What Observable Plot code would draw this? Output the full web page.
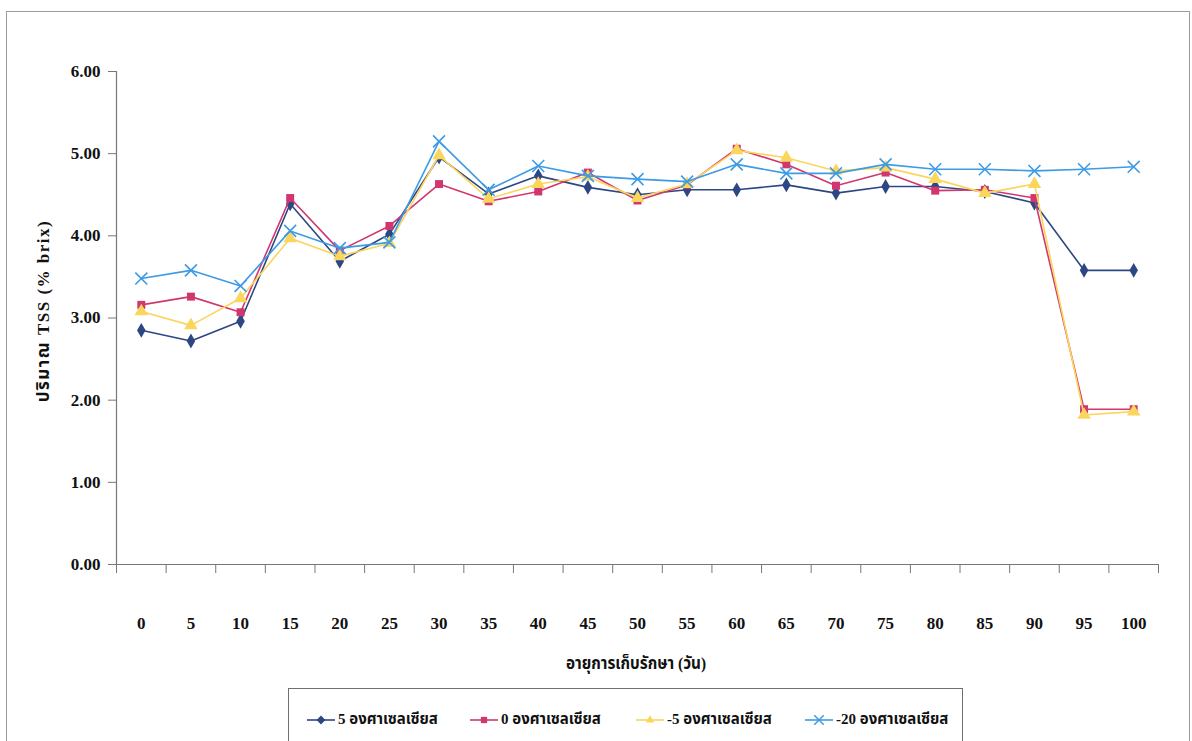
<!DOCTYPE html>
<html>
<head>
<meta charset="utf-8">
<script src="https://cdn.jsdelivr.net/npm/d3@7"></script>
<script src="https://cdn.jsdelivr.net/npm/@observablehq/plot@0.6"></script>
<style>
  html, body { margin: 0; padding: 0; background: #fff; overflow: hidden; }
  #frame { position: absolute; left: 6px; top: 11px; width: 1184px; height: 760px;
           border: 1px solid #9c9c9c; box-sizing: border-box; }
  #chart { position: absolute; left: 0; top: 0; }
  #chart svg text { font-family: "Liberation Serif", "Times New Roman", serif; }
  .ttl { position: absolute; font-family: "Liberation Serif", "Noto Sans Thai", serif;
         font-weight: bold; font-size: 17px; color: #111; white-space: nowrap; }
  #ytitle { left: 44px; top: 311px; transform: translate(-50%, -50%) rotate(-90deg);
            letter-spacing: 1.5px; }
  #xtitle { left: 636px; top: 664px; transform: translate(-50%, -50%) scaleX(0.9); }
  #legend { position: absolute; left: 288px; top: 688px; width: 675px; height: 70px;
            border: 1px solid #6f6f6f; box-sizing: border-box; background: #fff; }
  .item { position: absolute; top: 19px; display: flex; align-items: center;
          font-family: "Liberation Serif", "Noto Sans Thai", serif; font-size: 15px;
          font-weight: bold; color: #111; white-space: nowrap; }
  .item svg { margin-right: 3px; display: block; }
</style>
</head>
<body>
<div id="frame"></div>
<div id="chart"></div>
<div class="ttl" id="ytitle">ปริมาณ TSS (% brix)</div>
<div class="ttl" id="xtitle">อายุการเก็บรักษา (วัน)</div>
<div id="legend"></div>
<script>
// Storage time (days) and total soluble solids (% brix) per storage temperature
const days = [0, 5, 10, 15, 20, 25, 30, 35, 40, 45, 50, 55, 60, 65, 70, 75, 80, 85, 90, 95, 100];
const seriesNames = ["5 องศาเซลเซียส", "0 องศาเซลเซียส", "-5 องศาเซลเซียส", "-20 องศาเซลเซียส"];
const tss5 = [2.85, 2.72, 2.96, 4.39, 3.69, 4.02, 4.96, 4.51, 4.73, 4.59, 4.50, 4.56, 4.56, 4.62, 4.52, 4.60, 4.60, 4.54, 4.40, 3.58, 3.58];
const tss0 = [3.16, 3.26, 3.07, 4.46, 3.82, 4.12, 4.63, 4.42, 4.54, 4.77, 4.43, 4.62, 5.06, 4.87, 4.61, 4.77, 4.55, 4.56, 4.46, 1.89, 1.89];
const tssM5 = [3.08, 2.91, 3.24, 3.97, 3.75, 3.91, 4.98, 4.45, 4.63, 4.72, 4.46, 4.63, 5.04, 4.95, 4.79, 4.83, 4.69, 4.52, 4.63, 1.82, 1.86];
const tssM20 = [3.48, 3.58, 3.39, 4.06, 3.85, 3.92, 5.15, 4.56, 4.85, 4.73, 4.69, 4.66, 4.87, 4.76, 4.76, 4.87, 4.81, 4.81, 4.79, 4.81, 4.84];
const yTicks = [0, 1, 2, 3, 4, 5, 6];

const colors = ["#2c4783", "#d1376f", "#fad65c", "#3d9be6"];
const symbols = ["diamond", "square", "triangle", "times"];
const d3Symbols = [d3.symbolDiamond2, d3.symbolSquare2, d3.symbolTriangle2, d3.symbolTimes];

const seriesValues = [tss5, tss0, tssM5, tssM20];
const rows = seriesValues.flatMap((vals, i) =>
  vals.map((v, j) => ({ day: days[j], value: v, series: seriesNames[i] })));

// Category boundaries for the x-axis tick marks (ticks sit between days)
const step = days[1] - days[0];
const boundaries = days.map(d => d - step / 2).concat([days[days.length - 1] + step / 2]);

const fontFamily = "'Liberation Serif', 'Times New Roman', serif";

const marks = [
  Plot.ruleY([0], { stroke: "#777", strokeWidth: 1.2 }),
  Plot.ruleX([boundaries[0]], { stroke: "#777", strokeWidth: 1.2 }),
  Plot.axisY({ ticks: yTicks, tickFormat: d3.format(".2f"), tickSize: 8, tickPadding: 8,
               stroke: "#777", fill: "#111", fontSize: 17, fontWeight: "bold", label: null }),
  Plot.axisX({ ticks: boundaries, tickFormat: () => "", tickSize: 9, stroke: "#777", label: null }),
  Plot.axisX({ ticks: days, tickSize: 0, tickPadding: 52, fill: "#111", fontSize: 17,
               fontWeight: "bold", label: null })
];

seriesNames.forEach((name, i) => {
  const data = rows.filter(r => r.series === name);
  marks.push(Plot.line(data, { x: "day", y: "value", stroke: colors[i], strokeWidth: 1.6 }));
  if (symbols[i] === "times") {
    marks.push(Plot.dot(data, { x: "day", y: "value", symbol: "times", r: 5.5,
                                stroke: colors[i], strokeWidth: 1.6 }));
  } else {
    marks.push(Plot.dot(data, { x: "day", y: "value", symbol: symbols[i], r: symbols[i] === "triangle" ? 5 : 4.5,
                                fill: colors[i], stroke: "none" }));
  }
});

const chart = Plot.plot({
  width: 1192,
  height: 690,
  marginLeft: 116,
  marginRight: 34,
  marginTop: 71,
  marginBottom: 126,
  style: { fontFamily, background: "transparent", overflow: "visible" },
  x: { type: "linear", domain: [boundaries[0], boundaries[boundaries.length - 1]], axis: null },
  y: { domain: [yTicks[0], yTicks[yTicks.length - 1]], axis: null },
  marks
});
document.getElementById("chart").appendChild(chart);

// Legend: line sample with marker, then series name
const legend = d3.select("#legend");
const itemLeft = [18, 181, 347, 516];
seriesNames.forEach((name, i) => {
  const item = legend.append("div").attr("class", "item").style("left", itemLeft[i] + "px");
  const svg = item.append("svg").attr("width", 28).attr("height", 16);
  svg.append("line").attr("x1", 0).attr("x2", 28).attr("y1", 8).attr("y2", 8)
    .attr("stroke", colors[i]).attr("stroke-width", 1.6);
  const isTimes = symbols[i] === "times";
  svg.append("path")
    .attr("transform", "translate(14,8)")
    .attr("d", d3.symbol(d3Symbols[i], isTimes ? 60 : 50)())
    .attr("fill", isTimes ? "none" : colors[i])
    .attr("stroke", isTimes ? colors[i] : "none")
    .attr("stroke-width", 1.5);
  item.append("span").text(name);
});
</script>
</body>
</html>
